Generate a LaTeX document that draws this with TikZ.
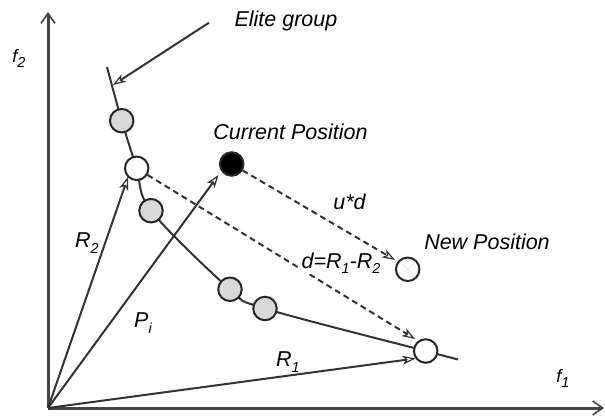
\documentclass[tikz,border=0pt]{standalone}
\usepackage{fontspec}
\setmainfont{Liberation Sans}
\usetikzlibrary{arrows.meta}
\definecolor{ink}{HTML}{333333}
\definecolor{axisc}{HTML}{444444}
\definecolor{dotgray}{HTML}{D9D9D9}
\newcommand{\lsub}[1]{\raisebox{-0.45ex}{\fontsize{14.5}{14.5}\selectfont\itshape #1}}
\begin{document}
\begin{tikzpicture}[x=1pt,y=-1pt,
  lab/.style={font=\fontsize{21.5}{24}\selectfont\itshape, inner sep=0.5pt},
  axlab/.style={font=\fontsize{18}{20}\selectfont\itshape, inner sep=0pt},
  dot/.style={circle, draw=black!85, line width=2pt, minimum size=23.5pt, inner sep=0pt},
  axisline/.style={draw=axisc, line width=3pt, -{Straight Barb[length=10pt,width=14pt,line width=1.6pt]}},
  vec/.style={draw=ink, line width=2pt, -{Stealth[length=13pt,width=9pt,inset=3.5pt,fill=white,line width=1.2pt]}},
  dvec/.style={vec, dash pattern=on 6pt off 4pt},
  curveline/.style={draw=ink, line width=2pt}]
\useasboundingbox (0,0) rectangle (605,419);
% axes
\coordinate (O) at (48,408);
\coordinate (ytop) at (48,12);
\coordinate (xend) at (604,408);
\draw[axisline] (O) -- (ytop);
\draw[axisline] (O) -- (xend);
% front curve
\draw[curveline] plot[smooth, tension=0.55] coordinates {(107,67) (121.7,120.7) (136.7,168.3) (151,210.7) (230,289.3) (265,308.5) (425.7,351) (458,359.5)};
% circles
\node[dot, fill=dotgray] (g1) at (121.7,120.7) {};
\node[dot, fill=white] (w1) at (136.7,168.3) {};
\node[dot, fill=dotgray] (g2) at (151,210.7) {};
\node[dot, fill=dotgray] (g3) at (230,289.3) {};
\node[dot, fill=dotgray] (g4) at (265,308.5) {};
\node[dot, fill=white] (w2) at (425.7,351) {};
\node[dot, fill=black] (cp) at (231.7,164) {};
\node[dot, fill=white] (np) at (407.7,269.3) {};
\draw[black!6, line width=1pt] ([shift={(-7,-7)}]np.center) -- ([shift={(7,7)}]np.center)
  ([shift={(-7,7)}]np.center) -- ([shift={(7,-7)}]np.center);
% vectors from origin
\coordinate (r2tip) at (128,177);
\coordinate (pitip) at (218.5,175);
\coordinate (r1tip) at (415.5,358.5);
\draw[vec] (O) -- (r2tip);
\draw[vec] (O) -- (pitip);
\draw[vec] (O) -- (r1tip);
% dashed vectors
\coordinate (dtip) at (415,339);
\coordinate (utip) at (395,260);
\draw[dvec] (w1) -- (dtip);
\draw[dvec] (cp) -- (utip);
% labels
\node[lab, anchor=base] (elite) at (286,26.5) {Elite group};
\coordinate (elitestart) at (209,22.7);
\coordinate (elitetip) at (113,85);
\draw[vec] (elitestart) -- (elitetip);
\node[lab, anchor=base] (curpos) at (290.5,140) {Current Position};
\node[lab, anchor=base] (newpos) at (487,250) {New Position};
\node[lab, anchor=base] (ud) at (349.5,210) {u*d};
\node[lab, anchor=base, fill=white] (dlab) at (341,268.5) {d=R\lsub{1}-R\lsub{2}};
\node[lab, anchor=base] (r2lab) at (87,248) {R\lsub{2}};
\node[lab, anchor=base] (pilab) at (143,328) {P\lsub{i}};
\node[lab, anchor=base] (r1lab) at (288,367) {R\lsub{1}};
\node[axlab, anchor=base] (f1lab) at (563,383) {f\lsub{1}};
\node[axlab, anchor=base] (f2lab) at (19,63) {f\lsub{2}};
\end{tikzpicture}
\end{document}
